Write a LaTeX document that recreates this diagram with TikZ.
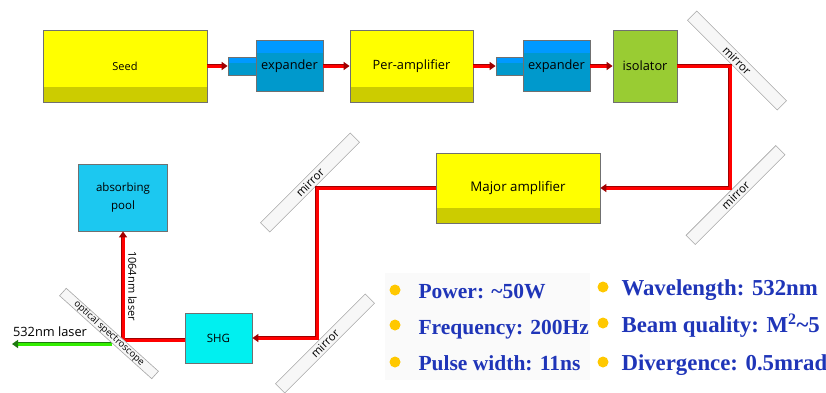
\documentclass[tikz,border=0pt]{standalone}
\usepackage{fontspec}
\setmainfont{Open Sans}
\newfontfamily\legendfont{Liberation Serif}
\usetikzlibrary{arrows.meta}
\definecolor{ampyellow}{HTML}{FFFF00}
\definecolor{ampband}{HTML}{CCCC00}
\definecolor{expblue}{HTML}{0099CC}
\definecolor{exptop}{HTML}{0099FF}
\definecolor{isogreen}{HTML}{99CC33}
\definecolor{poolblue}{HTML}{1CC8F0}
\definecolor{shgcyan}{HTML}{00F0F0}
\definecolor{boxline}{HTML}{707070}
\definecolor{beamred}{HTML}{FF0000}
\definecolor{beamdark}{HTML}{A00000}
\definecolor{greenbeam}{HTML}{33EE00}
\definecolor{greendark}{HTML}{1F7A10}
\definecolor{legendblue}{HTML}{1F35B8}
\definecolor{dotgold}{HTML}{FFC800}
\begin{document}
\begin{tikzpicture}[x=1pt,y=-1pt,
  box/.style={draw=boxline, line width=0.8pt, inner sep=0pt, align=center,
    font=\fontsize{12.8}{17}\selectfont},
  amp/.style={box, fill=ampyellow, path picture={
    \fill[ampband] (path picture bounding box.south west) rectangle
      ([yshift=15pt]path picture bounding box.south east);}},
  expbox/.style={box, fill=expblue, path picture={
    \fill[exptop] (path picture bounding box.north west) rectangle
      ([yshift=#1]path picture bounding box.north east);}},
  expbox/.default=-12pt,
  mirror/.style={draw=gray!70, fill=gray!6, line width=0.6pt, minimum width=127pt,
    minimum height=13pt, inner sep=0pt, font=\fontsize{11.5}{12}\selectfont},
  beam/.style={draw=beamred, line width=3pt,
    preaction={draw=beamdark, line width=4.6pt, arrows=-, shorten >=5pt},
    -{Triangle[length=6pt,width=8pt,color=beamdark]}},
  greenline/.style={draw=greenbeam, line width=3pt,
    preaction={draw=greendark, line width=4.4pt, arrows=-, shorten >=5pt},
    -{Triangle[length=6pt,width=8pt,color=greendark]}},
  dot/.style={circle, fill=dotgold, minimum size=11pt, inner sep=0pt},
  spec/.style={anchor=base west, text=legendblue, font=\legendfont\bfseries\fontsize{#1}{24}\selectfont},
  spec/.default=21.5]
  \useasboundingbox (0,0) rectangle (826,392);
  % top row
  \node[amp, minimum width=164pt, minimum height=72pt, font=\fontsize{11}{12}\selectfont] (seed) at (125,66) {Seed};
  \node[expbox, minimum width=67pt, minimum height=51pt] (exp1) at (289.5,66) {expander};
  \node[expbox=-6pt, minimum width=28pt, minimum height=18pt] (exps1) at (242,66) {};
  \node[amp, minimum width=123pt, minimum height=72pt] (pre) at (411.5,66) {Per-amplifier};
  \node[expbox, minimum width=67pt, minimum height=51pt] (exp2) at (556.5,66) {expander};
  \node[expbox=-6pt, minimum width=27pt, minimum height=18pt] (exps2) at (509.5,66) {};
  \node[box, fill=isogreen, minimum width=64pt, minimum height=72pt] (iso) at (645,66) {isolator};
  % middle and bottom
  \node[amp, minimum width=164pt, minimum height=70pt, font=\fontsize{13.3}{17}\selectfont] (major) at (518,188) {Major amplifier};
  \node[box, fill=poolblue, minimum width=89pt, minimum height=67pt, font=\fontsize{11.5}{18}\selectfont] (pool) at (123,197.5) {absorbing\\pool};
  \node[box, fill=shgcyan, minimum width=67pt, minimum height=50pt, font=\fontsize{11.5}{13}\selectfont] (shg) at (218.5,338) {SHG};
  % mirrors
  \node[mirror, rotate=-45] (m1) at (737,60.5) {mirror};
  \node[mirror, rotate=45] (m2) at (735.5,195) {mirror};
  \node[mirror, rotate=45] (m3) at (310,182.5) {mirror};
  \node[mirror, rotate=45] (m4) at (325,343.5) {mirror};
  % beam path
  \coordinate (r1) at (730,66);
  \coordinate (r2) at (730,188);
  \coordinate (r3) at (317,188);
  \coordinate (r4) at (317,338);
  \coordinate (r5) at (123,340);
  \coordinate (g1) at (112,344);
  \coordinate (g2) at (12,344);
  \draw[beam] (seed) -- (exps1);
  \draw[beam] (exp1) -- (pre);
  \draw[beam] (pre) -- (exps2);
  \draw[beam] (exp2) -- (iso);
  \draw[beam] (iso.east) -- (r1) -- (r2) -- (major.east);
  \draw[beam] (major.west) -- (r3) -- (r4) -- (shg.east);
  \draw[beam] (shg.west |- r5) -- (r5) -- (pool.south);
  \draw[greenline] (g1) -- (g2);
  \node[mirror, rotate=-42, minimum width=124pt, minimum height=10pt,
    font=\fontsize{9.5}{10}\selectfont] (split) at (109,333.5) {optical spectroscope};
  \node[font=\fontsize{11}{13}\selectfont, rotate=-90] (ir) at (132.5,286) {1064nm laser};
  \node[font=\fontsize{12.8}{13}\selectfont] (vis) at (50,332) {532nm laser};
  % parameters
  \fill[black!2] (385,273) rectangle (590,380);
  \node[dot] (d1) at (395,290) {};
  \node[dot] (d2) at (395,325) {};
  \node[dot] (d3) at (395,362) {};
  \node[dot] (d4) at (603,287) {};
  \node[dot] (d5) at (603,323) {};
  \node[dot] (d6) at (603,362) {};
  \node[spec] (pw) at (415,298) {Power: \textasciitilde50W};
  \node[spec] (fq) at (415,334) {Frequency: 200Hz};
  \node[spec] (pl) at (415,370) {Pulse width: 11ns};
  \node[spec=22.8] (wl) at (618,295) {Wavelength: 532nm};
  \node[spec=22.8] (bq) at (618,332) {Beam quality: M\textsuperscript{2}\textasciitilde5};
  \node[spec=22.8] (dv) at (618,370) {Divergence: 0.5mrad};
\end{tikzpicture}
\end{document}
